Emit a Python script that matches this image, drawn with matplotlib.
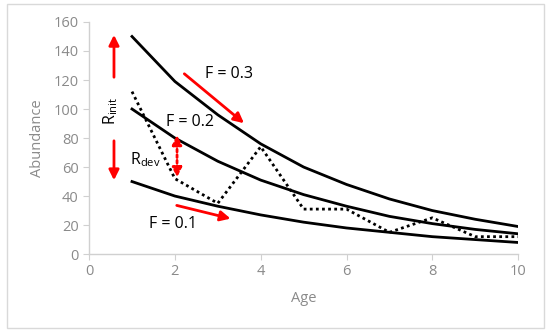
import numpy as np
import matplotlib
matplotlib.use("Agg")
from matplotlib import pyplot as plt
from matplotlib.patches import Rectangle

# values
age = [1, 2, 3, 4, 5, 6, 7, 8, 9, 10]
f_high = [150, 119, 96, 76, 60, 48, 38, 30, 24, 19]
f_mid = [100, 80, 64, 51, 41, 33, 26, 21, 17, 14]
f_low = [50, 40, 33, 27, 22, 18, 15, 12, 10, 8]
r_dev = [112, 52, 35, 74, 31, 31, 15, 25, 12, 12]

grey = '#8a8a8a'
plt.rcParams['font.family'] = ['Open Sans', 'DejaVu Sans']

fig = plt.figure(figsize=(5.5, 3.33), dpi=100)
ax = fig.add_axes([0.162, 0.237, 0.78, 0.697])

ax.plot(age, f_high, color='black', lw=2)
ax.plot(age, f_mid, color='black', lw=2)
ax.plot(age, f_low, color='black', lw=2)
ax.plot(age, r_dev, color='black', lw=2, linestyle=(0, (1, 1.2)))

ax.set_xlim(0, 10)
ax.set_ylim(0, 160)
ax.set_xticks([0, 2, 4, 6, 8, 10])
ax.set_yticks(np.arange(0, 161, 20))
for s in ['top', 'right']:
    ax.spines[s].set_visible(False)
for s in ['left', 'bottom']:
    ax.spines[s].set_color('#d0d0d0')
    ax.spines[s].set_linewidth(1)
ax.tick_params(colors='#d0d0d0', labelcolor=grey, labelsize=10.5, length=4)
ax.set_xlabel('Age', color=grey, fontsize=10.5, labelpad=8)
ax.set_ylabel('Abundance', color=grey, fontsize=10.5, labelpad=6)

# red arrows
red = dict(arrowstyle='-|>', color='red', lw=2, mutation_scale=15)
ax.annotate('', xy=(0.58, 153), xytext=(0.58, 120), arrowprops=red)
ax.annotate('', xy=(0.58, 49), xytext=(0.58, 80), arrowprops=red)
ax.annotate('', xy=(3.66, 89), xytext=(2.17, 125.5), arrowprops=red)
ax.annotate('', xy=(3.36, 24), xytext=(1.98, 34), arrowprops=red)
ax.annotate('', xy=(2.05, 84), xytext=(2.05, 51),
            arrowprops=dict(arrowstyle='<|-|>', color='red', lw=2,
                            linestyle=(0, (1, 1)), mutation_scale=14))

ax.text(2.7, 124, 'F = 0.3', fontsize=11.5, va='center')
ax.text(2.35, 91, 'F = 0.2', fontsize=11.5, va='center', ha='center')
ax.text(1.96, 21, 'F = 0.1', fontsize=11.5, va='center', ha='center')
ax.text(0.5, 99, r'R$_{\mathregular{init}}$', fontsize=11.5, rotation=90,
        va='center', ha='center')
ax.text(1.3, 65, r'R$_{\mathregular{dev}}$', fontsize=11.5, va='center', ha='center')

fig.patches.append(Rectangle((7 / 550, 1 - 328 / 333), 537 / 550, 324 / 333,
                             transform=fig.transFigure, fill=False,
                             edgecolor='#d9d9d9', lw=1))

fig.savefig('out.png', dpi=100)
